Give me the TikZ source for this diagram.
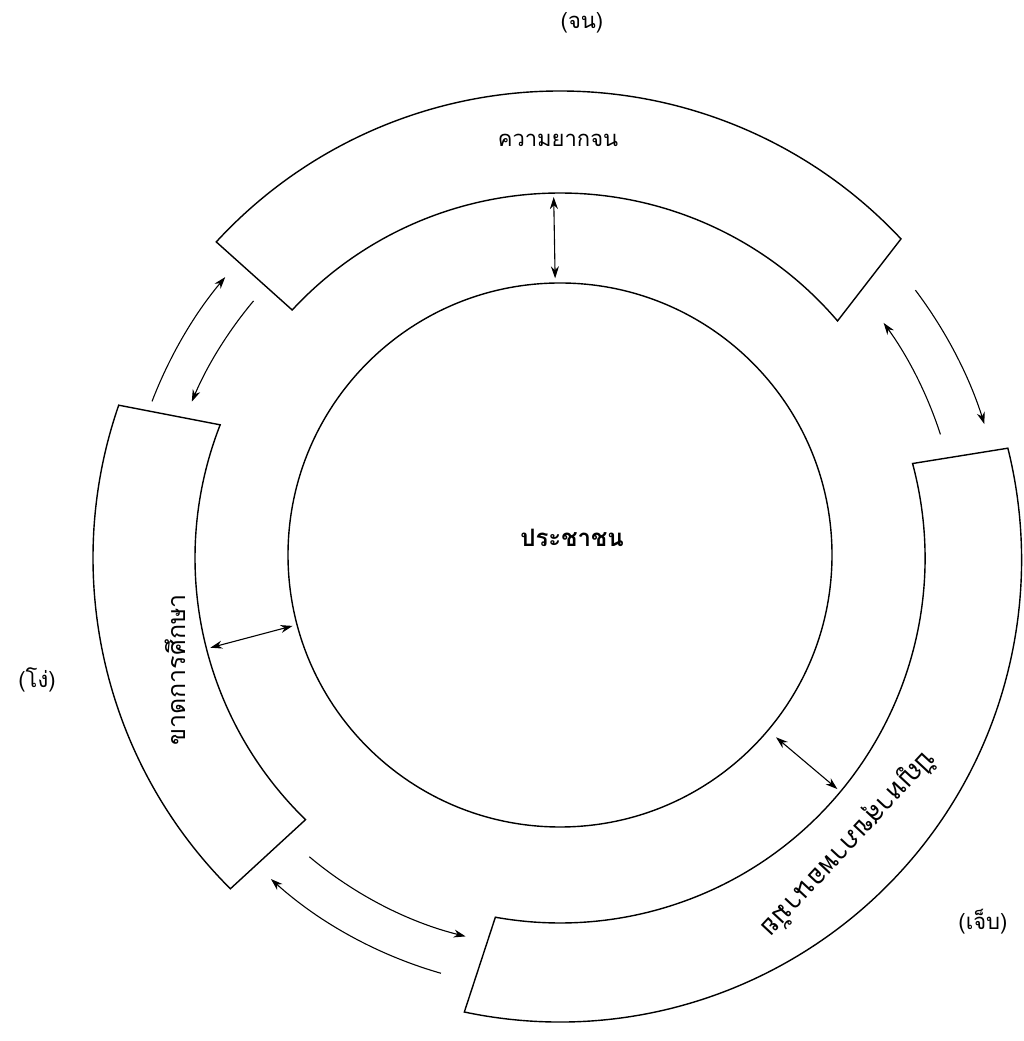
\documentclass[tikz,border=0pt]{standalone}
\usepackage{fontspec}
\newfontfamily\thaifont[Script=Thai]{Loma}
\usetikzlibrary{arrows.meta,calc,positioning}
\tikzset{
    %Define standard arrow tip
    >={Stealth[length=12pt,width=8pt]},
    %Define style for bands
    band/.style={
           draw=black,
           line width=1.4pt},
    core/.style={
           circle,
           draw=black, line width=1.4pt,
           minimum size=544pt,
           inner sep=0pt},
    bandtext/.style={
           font=\thaifont\fontsize{22}{26}\selectfont},
    coretext/.style={
           font=\thaifont\bfseries\fontsize{24}{28}\selectfont},
    tag/.style={
           font=\thaifont\fontsize{22}{26}\selectfont},
    % Define arrow style
    pil/.style={
           <->,
           line width=1.1pt,
           shorten <=4pt,
           shorten >=4pt},
    flow/.style={
           ->,
           line width=1.1pt}
}
\begin{document}
\begin{tikzpicture}[x=1pt,y=1pt]
\useasboundingbox (0,0) rectangle (1023,1041);
 %centre of the ring
\coordinate (C) at (560,483);
 %people in the middle
\node[core] (people) at (560,486) {};
\node[coretext] (peopletext) at (572,503) {ประชาชน};
 %bands
\draw[band] ($(C)+(43.1:467pt)$) arc[start angle=43.1, end angle=137.4, radius=467pt]
    -- ($(C)+(137.2:365pt)$) arc[start angle=137.2, end angle=40.5, radius=365pt] -- cycle;
\draw[band] ($(C)+(160.9:467pt)$) arc[start angle=160.9, end angle=225.1, radius=467pt]
    -- ($(C)+(225.8:365pt)$) arc[start angle=225.8, end angle=158.6, radius=365pt] -- cycle;
\draw[band] ($(C)+(258.1:464pt)$) arc[start angle=258.1, end angle=374, radius=462pt]
    -- ($(C)+(375:365pt)$) arc[start angle=375, end angle=259.8, radius=365pt] -- cycle;
 %band texts
\node[bandtext] (poverty) at (558,901) {ความยากจน};
\node[bandtext, rotate=90, font=\thaifont\fontsize{25}{29}\selectfont] (school) at (175,371) {ขาดการศึกษา};
\node[bandtext, rotate=227, font=\thaifont\fontsize{27}{31}\selectfont] (health) at (848,198) {ปัญหาสุขภาพอนามัย};
 %outside tags
\node[tag] (poor) at (582,1018) {(จน)};
\node[tag] (dumb) at (37,361) {(โง่)};
\node[tag] (sick) at (983,119) {(เจ็บ)};
 %links between bands and people
\coordinate (povin) at ($(C)+(91:365pt)$);
\coordinate (schin) at ($(C)+(194.4:365pt)$);
\coordinate (healin) at ($(C)+(320.2:365pt)$);
\draw[pil] (povin) -- (people);
\draw[pil] (schin) -- (people);
\draw[pil, shorten >=10pt] (healin) -- (people);
 %links between bands
\coordinate (tl1) at ($(C)+(159:437pt)$);
\coordinate (tl2) at ($(C)+(140:400pt)$);
\coordinate (tr1) at ($(C)+(37:445pt)$);
\coordinate (tr2) at ($(C)+(18:400pt)$);
\coordinate (bl1) at ($(C)+(254:432pt)$);
\coordinate (bl2) at ($(C)+(230:390pt)$);
\draw[flow] (tl1) arc[start angle=159, end angle=140, radius=437pt];
\draw[flow] (tl2) arc[start angle=140, end angle=157, radius=400pt];
\draw[flow] (tr1) arc[start angle=37, end angle=17.5, radius=445pt];
\draw[flow] (tr2) arc[start angle=18, end angle=36, radius=400pt];
\draw[flow] (bl1) arc[start angle=254, end angle=228, radius=432pt];
\draw[flow] (bl2) arc[start angle=230, end angle=256, radius=390pt];
\end{tikzpicture}
\end{document}
